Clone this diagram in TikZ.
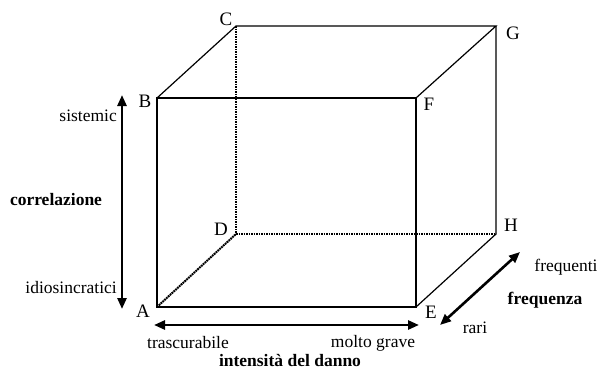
\documentclass[tikz,border=0pt]{standalone}
\usepackage{fontspec}
\setmainfont{Liberation Serif}
\usetikzlibrary{arrows.meta}
\begin{document}
\begin{tikzpicture}[x=1pt,y=-1pt,
  edge/.style={line width=1.2pt},
  hidden/.style={line width=2pt,dash pattern=on 1.8pt off 0.7pt},
  axis/.style={line width=2.6pt,{Triangle[length=11pt,width=9pt]}-{Triangle[length=11pt,width=9pt]}},
  vlab/.style={font=\fontsize{19}{19}\selectfont,inner sep=0pt},
  txt/.style={font=\fontsize{17.5}{17.5}\selectfont,inner sep=0pt},
  btxt/.style={font=\fontsize{17.5}{17.5}\selectfont\bfseries,inner sep=0pt}]
\useasboundingbox (0,0) rectangle (597,372);
\coordinate (A) at (157,307);
\coordinate (B) at (157,98);
\coordinate (F) at (416,98);
\coordinate (E) at (416,307);
\coordinate (C) at (236,26);
\coordinate (G) at (496,26);
\coordinate (H) at (496,234);
\coordinate (D) at (236,234);
% visible edges
\draw[edge] (A) -- (B) -- (F) -- (E) -- cycle;
\draw[edge] (B) -- (C) -- (G) -- (F);
\draw[edge] (G) -- (H) -- (E);
% hidden edges
\draw[hidden] (C) -- (D);
\draw[hidden] (D) -- (H);
\draw[hidden] (A) -- (D);
% vertex labels
\node[vlab] (lA) at (143,311) {A};
\node[vlab] (lB) at (145,101) {B};
\node[vlab] (lC) at (226,19) {C};
\node[vlab] (lD) at (221,229) {D};
\node[vlab] (lE) at (431,312) {E};
\node[vlab] (lF) at (429,104) {F};
\node[vlab] (lG) at (513,33) {G};
\node[vlab] (lH) at (511,225) {H};
% correlation axis
\coordinate (v1) at (122,95);
\coordinate (v2) at (122,309);
\draw[axis] (v1) -- (v2);
\node[txt,anchor=east] (sis) at (117,116) {sistemic};
\node[btxt] (cor) at (56,200) {correlazione};
\node[txt,anchor=east] (idi) at (117,288) {idiosincratici};
% damage axis
\coordinate (h1) at (154,325);
\coordinate (h2) at (419,325);
\draw[axis] (h1) -- (h2);
\node[txt] (tra) at (188,343) {trascurabile};
\node[txt] (mol) at (373,343) {molto grave};
\node[btxt] (int) at (290,361) {intensità del danno};
% frequency axis
\coordinate (f1) at (440,325);
\coordinate (f2) at (520,252);
\draw[axis] (f1) -- (f2);
\node[txt] (fre) at (566,267) {frequenti};
\node[btxt] (frz) at (545,300) {frequenza};
\node[txt] (rar) at (475,328) {rari};
\end{tikzpicture}
\end{document}
